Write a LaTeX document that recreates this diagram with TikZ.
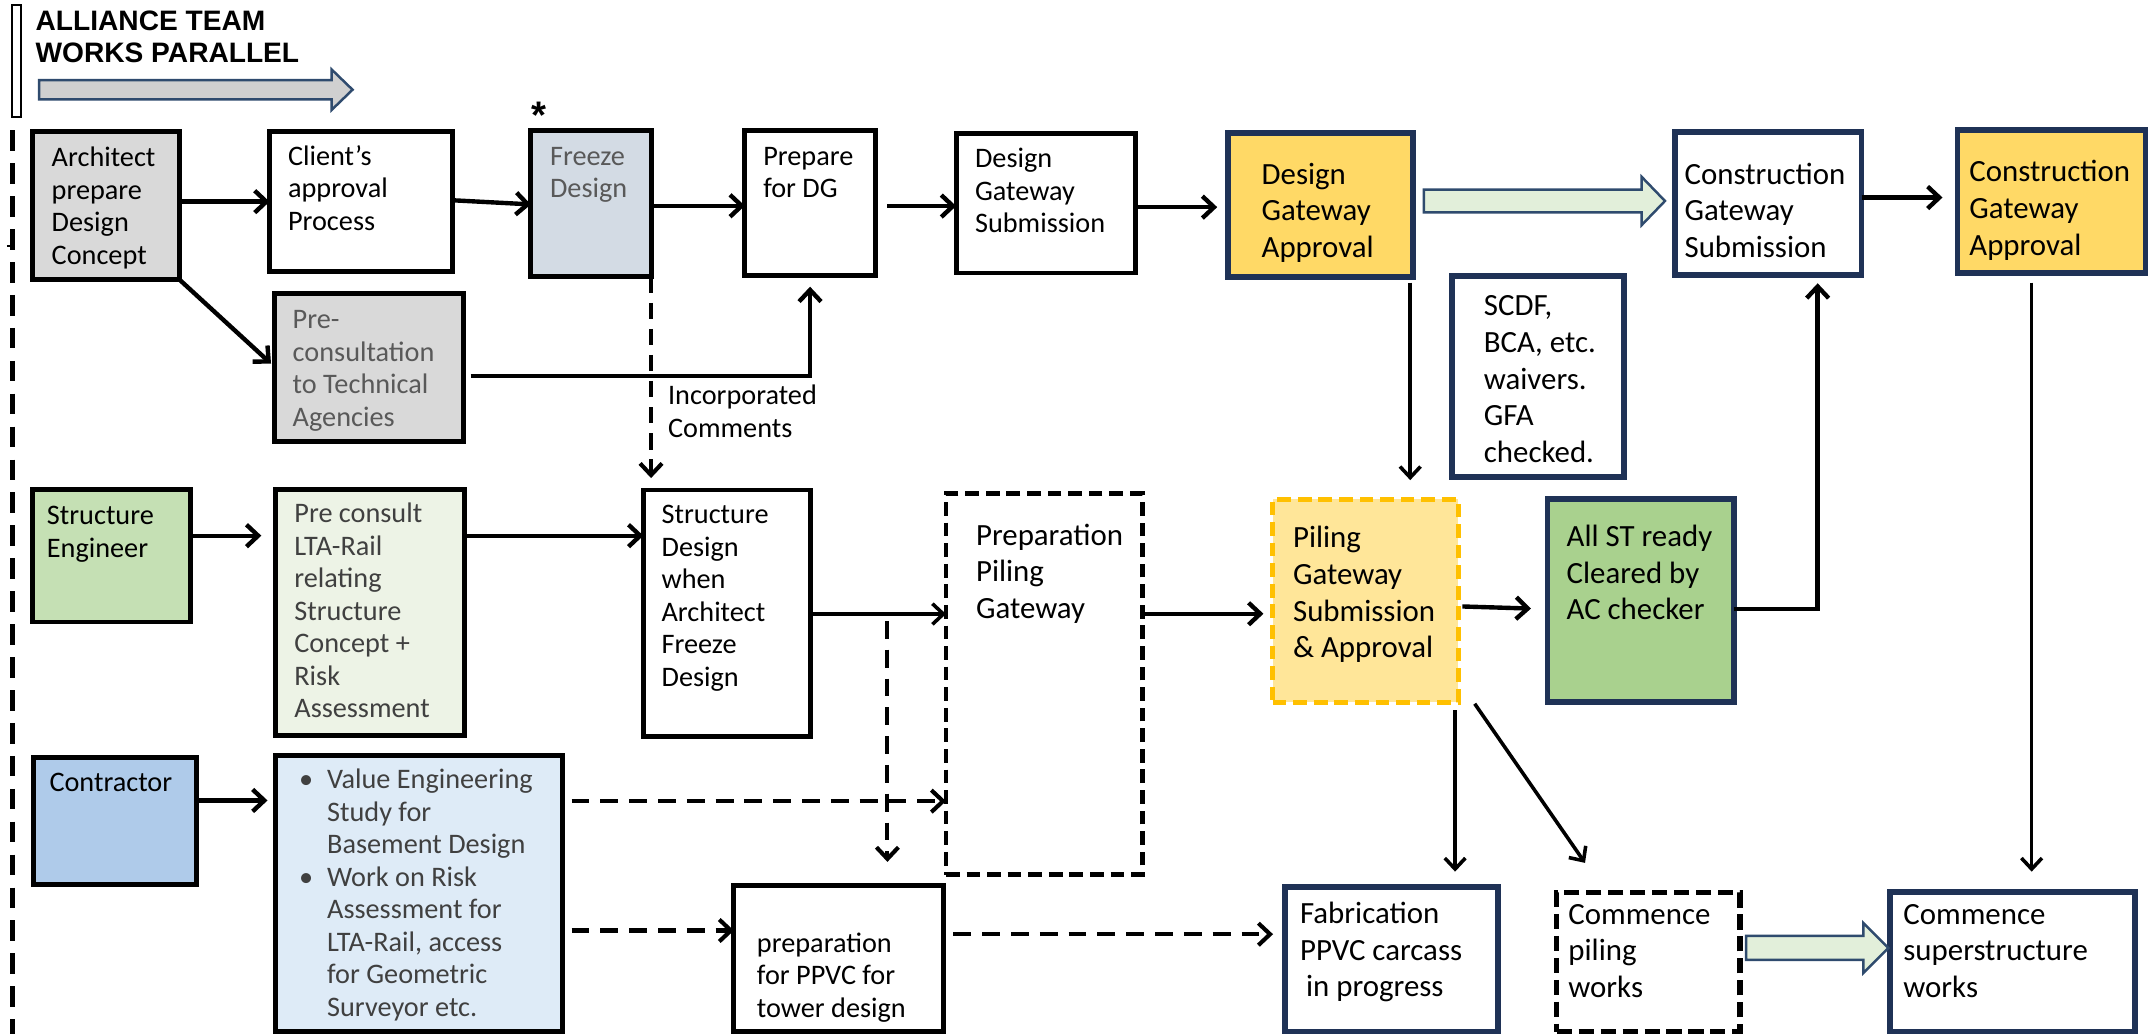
\documentclass[tikz,border=0pt]{standalone}
\usepackage{fontspec}
\setmainfont{Carlito}
\newfontfamily\headfont{Liberation Sans}
\usetikzlibrary{arrows.meta,calc}

\definecolor{navy}{HTML}{1F3256}
\definecolor{archgray}{HTML}{D9D9D9}
\definecolor{freezefill}{HTML}{D3DBE4}
\definecolor{gold}{HTML}{FFD966}
\definecolor{pilefill}{HTML}{FFE699}
\definecolor{pileedge}{HTML}{FFC000}
\definecolor{segreen}{HTML}{C5E0B4}
\definecolor{ltagreen}{HTML}{EDF3E6}
\definecolor{stgreen}{HTML}{A9D18E}
\definecolor{conblue}{HTML}{AFCBEA}
\definecolor{vepale}{HTML}{DEEBF7}
\definecolor{arrowgreen}{HTML}{E2EFDA}
\definecolor{arrowedge}{HTML}{2F4B6E}
\definecolor{arrowgray}{HTML}{D0D0D0}
\definecolor{greytext}{HTML}{595959}
\definecolor{darktext}{HTML}{404040}

\newcommand\smallfnt{\fontsize{20.6pt}{23.7pt}\selectfont}
\newcommand\largefnt{\fontsize{22.5pt}{26.7pt}\selectfont}

% \flowbox{name}{style}{x1}{y1}{x2}{y2}{left pad}{first baseline}{text}
\newcommand\flowbox[9]{%
  \pgfmathsetmacro\fbw{#5-#3}%
  \pgfmathsetmacro\fbh{#6-#4}%
  \pgfmathsetmacro\fbt{#5-#3-#7}%
  \node[#2, inner sep=0pt, outer sep=0pt, minimum width=\fbw pt,
        minimum height=\fbh pt, anchor=north west] (#1) at (#3,#4)
    {\hspace*{#7pt}\parbox[c][\fbh pt][t]{\fbt pt}{\raggedright\rule{0pt}{#8pt}#9}};%
}

% \blockarrow{style}{from}{to}{body half}{head half}{head length}
\newcommand\blockarrow[6]{%
  \draw[#1] ($(#2)+(0,#4)$) -- ($(#3)+(-#6,#4)$) -- ($(#3)+(-#6,#5)$) -- (#3)
    -- ($(#3)+(-#6,-#5)$) -- ($(#3)+(-#6,-#4)$) -- ($(#2)+(0,-#4)$) -- cycle;%
}

\begin{document}
\begin{tikzpicture}[x=1pt,y=-1pt,
  plainbox/.style={},
  blackbox/.style={draw=black, line width=3.6pt},
  navybox/.style={draw=navy, line width=4.2pt},
  dashbox/.style={draw=black, line width=3.6pt, dash pattern=on 10pt off 5pt},
  pilebox/.style={draw=pileedge, fill=pilefill, line width=3.6pt, dash pattern=on 10pt off 5pt},
  conn/.style={line width=3.2pt, -{Straight Barb[length=8.5pt,width=16pt]}},
  thinconn/.style={line width=2.6pt, -{Straight Barb[length=8pt,width=15pt]}},
  dconn/.style={line width=3pt, dash pattern=on 13pt off 8pt, -{Straight Barb[length=8.5pt,width=16pt]}},
  fatarrow/.style={line width=1.8pt, draw=arrowedge}
]
\fill[white] (0,0) rectangle (1568,754);
\useasboundingbox (0,0) rectangle (1568,754);

% heading and team marker
\draw[line width=1.4pt] (8.8,3.6) rectangle (15.6,85);
\flowbox{title}{plainbox, font=\headfont\bfseries\fontsize{20.5pt}{23.3pt}\selectfont}{26}{0}{260}{50}{0}{22.4}{ALLIANCE TEAM\\WORKS PARALLEL}
\coordinate (ga1) at (28.6,65.4);
\coordinate (ga2) at (257,65.4);
\blockarrow{fatarrow, fill=arrowgray}{ga1}{ga2}{7}{14.7}{15.2}
\draw[line width=3.4pt, dash pattern=on 15pt off 9pt] (9,95) -- (9,754);
\draw[line width=1.5pt] (5,179) -- (9,179);
\node[font=\headfont\bfseries\fontsize{28pt}{28pt}\selectfont, anchor=base, inner sep=0pt] (star) at (393,93.5) {*};

% row 1: architect
\flowbox{arch}{blackbox, fill=archgray, font=\smallfnt}{24}{96}{131}{204}{13.7}{25.6}{Architect\\prepare\\Design\\Concept}
\flowbox{client}{blackbox, fill=white, font=\smallfnt}{196.5}{96}{330}{198}{13.5}{24.4}{Client’s\\approval\\Process}
\flowbox{freeze}{blackbox, fill=freezefill, font=\smallfnt, text=greytext}{387}{95}{474.6}{201.7}{14}{25.4}{Freeze\\Design}
\flowbox{prepdg}{blackbox, fill=white, font=\smallfnt}{543}{95}{638}{201}{13.4}{25.4}{Prepare\\for DG}
\flowbox{dgs}{blackbox, fill=white, font=\smallfnt}{697}{97}{828}{199}{13.8}{25.4}{Design\\Gateway\\Submission}
\flowbox{dga}{navybox, fill=gold, font=\largefnt}{895}{97}{1030}{202}{24.7}{37.3}{Design\\Gateway\\Approval}
\flowbox{cgs}{navybox, fill=white, font=\largefnt}{1221}{96.5}{1357}{200.5}{7}{37.9}{Construction\\Gateway\\Submission}
\flowbox{cga}{navybox, fill=gold, font=\largefnt}{1427}{95}{1564}{199}{8.6}{37.6}{Construction\\Gateway\\Approval}
\flowbox{precon}{blackbox, fill=archgray, font=\smallfnt, text=greytext}{200}{214}{338}{322}{13.4}{25.5}{Pre-\\consultation\\to Technical\\Agencies}
\flowbox{scdf}{navybox, fill=white, font=\largefnt}{1058.6}{201}{1184}{347.5}{23.1}{29.3}{SCDF,\\BCA, etc.\\waivers.\\GFA\\checked.}
\flowbox{incl}{plainbox, font=\smallfnt}{487}{275}{610}{325}{0}{20.2}{Incorporated\\Comments}

% row 2: structure engineer
\flowbox{se}{blackbox, fill=segreen, font=\smallfnt}{23.5}{357}{139}{453.4}{10.7}{25.4}{Structure\\Engineer}
\flowbox{prelta}{blackbox, fill=ltagreen, font=\smallfnt, text=darktext}{200.5}{357}{338.4}{536}{14.1}{24}{Pre consult\\LTA-Rail\\relating\\Structure\\Concept +\\Risk\\Assessment}
\flowbox{sd}{blackbox, fill=white, font=\smallfnt}{469}{357.2}{591}{537}{13.3}{24.4}{Structure\\Design\\when\\Architect\\Freeze\\Design}
\flowbox{prepile}{dashbox, fill=white, font=\largefnt}{689.6}{360}{832.7}{637.8}{21.9}{37.5}{Preparation\\Piling\\Gateway}
\flowbox{pgate}{pilebox, font=\largefnt}{927.7}{364}{1063}{511.8}{14.9}{35.3}{Piling\\Gateway\\Submission\\\& Approval}
\flowbox{allst}{navybox, fill=stgreen, font=\largefnt}{1128}{364}{1264}{511.8}{14}{34.4}{All ST ready\\Cleared by\\AC checker}

% row 3: contractor
\flowbox{contr}{blackbox, fill=conblue, font=\smallfnt}{24.5}{552.3}{143}{644.5}{11.6}{24.6}{Contractor}
\flowbox{ve}{blackbox, fill=vepale, font=\smallfnt, text=darktext}{200.5}{550.4}{410}{752}{17.5}{24.4}{\makebox[20.5pt][l]{•}Value Engineering\\\hspace*{20.5pt}Study for\\\hspace*{20.5pt}Basement Design\\\makebox[20.5pt][l]{•}Work on Risk\\\hspace*{20.5pt}Assessment for\\\hspace*{20.5pt}LTA-Rail, access\\\hspace*{20.5pt}for Geometric\\\hspace*{20.5pt}Surveyor etc.}
\flowbox{ppvc}{blackbox, fill=white, font=\smallfnt}{535}{645.3}{688}{752}{16.8}{48.7}{preparation\\for PPVC for\\tower design}
\flowbox{fab}{navybox, fill=white, font=\largefnt}{936.7}{646.8}{1092.2}{752}{11}{26.3}{Fabrication\\PPVC carcass\\\hspace*{4.4pt}in progress}
\flowbox{cpile}{dashbox, line width=4pt, dash pattern=on 11pt off 5pt, fill=white, font=\largefnt}{1134.8}{650.7}{1268.4}{752}{8.5}{23}{Commence\\piling\\works}
\flowbox{csuper}{navybox, fill=white, font=\largefnt}{1377.8}{650}{1556.4}{752}{9.7}{23.8}{Commence\\superstructure\\works}

% connectors, row 1
\draw[conn] (arch.east |- 0,147) -- (client.west |- 0,147);
\draw[conn] (client.east |- 0,146) -- (freeze.west |- 0,149);
\draw[conn] (freeze.east |- 0,150) -- (prepdg.west |- 0,150);
\draw[conn, shorten <=8.8pt] (prepdg.east |- 0,150.2) -- (dgs.west |- 0,150.2);
\draw[conn, shorten >=7.7pt] (dgs.east |- 0,151) -- (dga.west |- 0,151);
\coordinate (dg1) at ($(dga.east |- 0,146.5)+(8,0)$);
\coordinate (dg2) at ($(cgs.west |- 0,146.5)+(-7.3,0)$);
\blockarrow{fatarrow, fill=arrowgreen}{dg1}{dg2}{8.3}{17.6}{17}
\draw[conn, shorten >=11pt] (cgs.east |- 0,144) -- (cga.west |- 0,144);
\draw[conn, shorten >=3.3pt] (arch.south east) -- (precon.west |- 0,267.3);
\draw[conn, shorten <=5pt, shorten >=8pt] (precon.east |- 0,274) -| (prepdg.south);
\draw[dconn, dash pattern=on 12pt off 7pt, shorten >=8.7pt] (freeze.south east) -- (freeze.south east |- sd.north);
\coordinate (dgaout) at ($(dga.south east)+(-2,0)$);
\draw[thinconn, shorten <=4pt, shorten >=14pt] (dgaout) -- (dgaout |- pgate.north);

% connectors, row 2
\draw[conn, shorten >=10pt] (se.east |- 0,390.5) -- (prelta.west |- 0,390.5);
\draw[conn] (prelta.east |- 0,390.5) -- (sd.west |- 0,390.5);
\draw[thinconn] (sd.east |- 0,447.6) -- (prepile.west |- 0,447.6);
\coordinate (split) at (646.9,447.6);
\draw[dconn, shorten <=5pt, shorten >=17pt] (split) -- (split |- ppvc.north);
\draw[conn, shorten >=6.7pt] (prepile.east |- 0,447.4) -- (pgate.west |- 0,447.4);
\draw[conn, shorten <=3pt, shorten >=12pt] (pgate.east |- 0,442) -- (allst.west |- 0,444);
\coordinate (cgsin) at ($(cgs.south east)+(-32,0)$);
\draw[conn, shorten >=6pt] (allst.east |- 0,444) -| (cgsin);
\coordinate (pgout) at ($(pgate.south east)+(-2.3,0)$);
\draw[thinconn, shorten <=6pt, shorten >=11.4pt] (pgout) -- (pgout |- fab.north);
\draw[thinconn] ($(pgate.south east)+(12,1.2)$) -- ($(cpile.north west)+(20.6,-21.7)$);
\coordinate (cgaout) at ($(cga.south)+(-14.5,0)$);
\draw[thinconn, shorten <=7pt, shorten >=14.6pt] (cgaout) -- (cgaout |- csuper.north);

% connectors, row 3
\draw[conn, shorten >=5.5pt] (contr.east |- 0,583.5) -- (ve.west |- 0,583.5);
\draw[dconn, shorten <=6.7pt] (ve.east |- 0,584) -- (prepile.west |- 0,584);
\draw[dconn, shorten <=6.7pt] (ve.east |- 0,678.3) -- (ppvc.west |- 0,678.3);
\draw[dconn, shorten <=7pt, shorten >=8.7pt] (ppvc.east |- 0,681) -- (fab.west |- 0,681);
\coordinate (cp1) at ($(cpile.east |- 0,691)+(4.4,0)$);
\coordinate (cp2) at ($(csuper.west |- 0,691)+(-1.3,0)$);
\blockarrow{fatarrow, fill=arrowgreen}{cp1}{cp2}{8.75}{18.25}{18.2}
\end{tikzpicture}
\end{document}
